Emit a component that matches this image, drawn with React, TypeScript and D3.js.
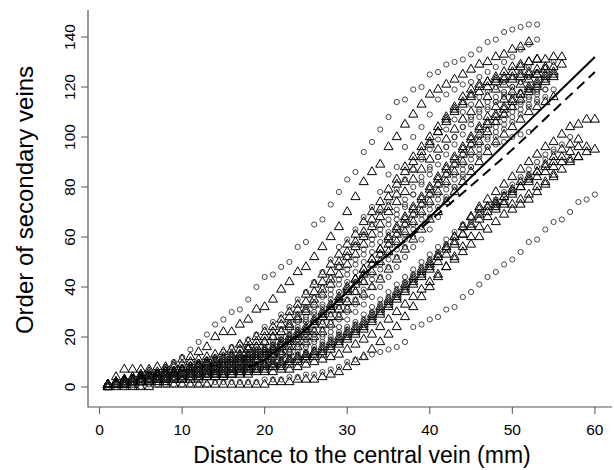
import React from "react";
import * as d3 from "d3";

// distance to the central vein, one reading per mm
const DISTANCE_MM = [
  1, 2, 3, 4, 5, 6, 7, 8, 9, 10, 11, 12, 13, 14, 15, 16, 17, 18, 19, 20,
  21, 22, 23, 24, 25, 26, 27, 28, 29, 30, 31, 32, 33, 34, 35, 36, 37, 38, 39, 40,
  41, 42, 43, 44, 45, 46, 47, 48, 49, 50, 51, 52, 53, 54, 55, 56, 57, 58, 59, 60,
];

// order of secondary veins reached at each distance, one array per leaf
const LEAF_A = [1,1,2,3,4,5,6,8,10,12,15,18,21,25,27,30,31,35,40,44,45,48,50,56,58,65,67,73,78,83,86,94,98,103,108,114,115,119,120,125,126,129,130,131,133,135,138,139,142,143,144,145,145];
const LEAF_B = [1,4,7,7,7,7,8,8,9,11,12,14,16,20,22,22,25,27,31,32,35,39,42,46,48,52,56,60,64,70,76,82,86,89,96,100,105,109,113,117,119,121,123,125,127,129,130,132,133,135,136,138];
const LEAF_C = [1,2,3,4,5,5,6,6,7,8,9,10,11,12,14,16,17,19,21,24,26,29,32,35,38,42,46,51,56,59,63,68,72,78,85,88,96,100,104,109,115,117,119,121,122,124,126,128,130,132,135,137,139];
const LEAF_D = [1,2,3,3,4,5,5,6,6,7,8,9,10,11,12,13,15,16,18,20,22,25,28,31,34,38,42,46,50,54,58,62,67,71,76,81,86,90,94,98,102,106,110,113,116,118,120,122,124,126,128,130,131,131,132,132];
const LEAF_E = [1,1,2,2,3,3,4,4,5,5,6,7,8,9,10,11,12,13,15,16,18,20,23,26,28,32,36,39,43,47,51,55,59,63,67,71,75,80,84,88,92,96,100,104,108,111,114,116,118,120,122,124,126,128,130];
const LEAF_F = [0,1,2,3,4,4,5,5,6,7,7,8,9,10,11,12,13,15,16,18,20,22,25,28,31,35,39,43,48,52,56,60,64,68,72,77,82,87,92,97,102,107,112,116,119,121,122,123,123,124,124,125,125,125,126];
const LEAF_G = [1,2,2,3,3,4,5,5,6,6,7,8,8,9,10,11,12,13,14,15,17,19,21,23,26,29,32,35,38,42,46,50,54,58,62,67,72,77,82,87,92,96,100,104,107,110,112,114,116,117,118,119,119,119,119];
const LEAF_H = [1,2,3,3,4,4,5,6,6,7,7,8,9,9,10,11,12,13,14,15,16,18,20,22,24,27,30,33,36,40,43,47,51,55,59,63,67,71,75,79,83,87,91,95,99,103,106,109,112,115,117,119,121,123,124];
const LEAF_I = [1,1,2,2,3,3,4,4,5,6,6,7,7,8,9,10,10,11,12,13,14,15,17,19,21,23,26,29,32,35,38,42,45,49,53,57,61,65,69,73,77,81,85,89,93,97,100,104,107,110,113,115,117,119];
const LEAF_J = [0,1,1,2,2,3,3,4,4,5,5,6,6,7,7,8,8,9,10,11,12,13,14,16,18,20,22,25,28,31,34,37,40,43,47,51,55,59,63,67,70,74,78,82,86,90,94,98,101,104,107,110,112,114,116];
const LEAF_K = [1,1,2,2,2,3,3,3,4,4,5,5,6,6,7,7,8,9,9,10,11,12,13,14,16,18,20,22,24,27,30,33,36,40,44,48,52,56,59,63,68,75,80,85,88,93,96,97,98,100,101,102];
const LEAF_L = [1,1,1,2,2,2,3,3,3,4,4,4,5,5,5,6,6,7,7,8,8,9,10,11,12,13,14,16,18,20,22,24,27,30,33,36,39,42,45,48,52,56,60,64,68,72,75,78,81,84,87,90,93,96,98,101,104,105,107,107];
const LEAF_M = [0,0,0,0,0,0,1,1,1,1,1,1,1,1,1,1,1,1,1,1,2,2,2,3,3,3,4,5,6,8,10,12,15,18,21,24,28,32,36,40,44,48,52,56,60,64,68,71,74,77,80,82,84,86,88,90,91,92,96];
const LEAF_N = [0,0,0,0,0,1,1,1,1,1,1,1,1,2,2,2,2,2,2,3,3,3,4,4,5,5,6,7,8,10,11,12,13,14,15,16,18,24,25,27,28,31,32,36,38,41,44,46,49,51,54,58,59,63,66,67,70,74,75,77];
const LEAF_O = [1,1,2,2,3,3,3,4,4,4,5,5,6,6,6,7,7,8,8,9,9,10,11,12,13,14,16,18,20,22,24,26,29,32,35,38,41,44,47,50,53,56,60,64,68,71,72,72,73,73,75,77,80,82,85];
const LEAF_P = [1,1,1,2,2,3,3,3,4,4,5,5,6,6,7,7,8,8,9,9,10,11,12,13,14,16,18,20,22,24,26,29,32,35,38,41,44,47,50,53,56,59,62,65,68,70,72,74,77,79,82,85,88,91,94,97,100];
const LEAF_Q = [1,2,3,4,5,6,6,7,8,9,10,11,12,13,14,15,17,18,20,22,24,27,30,33,37,41,45,49,53,57,61,66,70,74,79,83,88,92,96,100,104,108,111,114,117,120,122,124,126,128,129,130,131];
const LEAF_R = [1,2,2,3,3,4,4,5,5,6,7,7,8,9,10,10,11,12,13,14,16,17,19,21,23,26,29,32,35,38,42,45,49,53,57,61,65,69,73,77,81,85,89,93,97,100,103,106,109,112,114,116,118];
const LEAF_S = [1,1,2,2,2,3,3,3,4,4,4,5,5,6,6,7,7,8,8,9,10,10,11,12,13,14,15,17,19,21,23,25,28,31,34,37,40,43,46,49,52,55,58,61,64,67,70,73,76,79,82,84,86,88,90,92,94,96];
const LEAF_T = [1,2,2,3,4,4,5,6,6,7,8,9,10,10,11,12,13,15,16,18,20,22,24,27,30,33,37,41,45,49,53,57,61,65,70,74,78,83,87,91,95,99,103,107,110,113,116,119,121,123,125,126,127,128];
const LEAF_U = [1,1,2,3,3,4,4,5,5,6,7,7,8,9,10,11,12,13,14,15,17,19,21,24,27,30,33,37,41,45,49,53,57,61,65,69,73,77,81,85,89,93,97,101,105,108,111,114,117,120,122,124];
const LEAF_V = [1,1,2,2,3,3,4,4,5,5,6,6,7,8,8,9,10,11,12,13,14,16,18,20,22,25,28,31,34,38,41,45,49,53,57,61,65,69,73,77,81,85,89,93,97,101,105,108,111,114,117,120,122,124,125];
const LEAF_W = [1,1,2,2,3,3,4,4,5,5,6,6,7,7,8,9,9,10,11,12,13,14,15,17,19,21,23,26,29,32,35,39,43,47,51,55,59,63,67,71,75,79,83,87,91,95,99,102,105,108,111,113,115];
const LEAF_X = [0,1,1,2,2,3,3,4,4,5,5,6,6,7,8,8,9,10,11,12,13,14,16,18,20,22,25,28,31,34,38,42,46,50,54,58,62,66,70,74,78,82,86,90,94,98,102,106,109,112,115,118,120,122];
const LEAF_Y = [1,2,2,3,3,4,4,5,6,6,7,8,9,10,11,12,13,14,16,18,20,23,26,29,32,36,40,44,48,52,57,61,65,70,74,79,83,87,91,95,99,103,107,110,113,116,118,120,122,124,126,128];
const LEAF_Z = [1,1,2,2,3,3,4,5,5,6,6,7,8,8,9,10,11,12,13,14,15,17,19,21,23,26,29,32,35,39,43,47,51,55,60,64,68,72,76,80,84,88,92,96,100,104,108,112,115,118,121,123,125,127,128,129];
const LEAF_AA = [1,1,2,2,2,3,3,4,4,5,5,6,6,7,7,8,9,9,10,11,12,13,14,16,17,19,21,24,27,30,33,36,40,44,48,52,56,60,64,68,72,76,80,84,88,92,96,100,103,106,109,112,114,116];
const LEAF_AB = [1,1,1,2,2,2,3,3,3,3,4,4,4,5,5,5,6,6,7,7,8,8,9,10,11,12,13,15,17,19,21,23,26,29,32,35,38,41,44,47,50,53,57,61,65,69,72,74,76,78,80,83,86,89,92,95,97,99];
const LEAF_AC = [1,1,1,1,2,2,2,2,3,3,3,3,4,4,4,5,5,5,6,6,6,7,7,8,9,10,11,12,13,15,17,19,21,24,27,30,33,36,39,42,45,48,51,54,57,60,63,66,69,71,73,75,78,81,84,87,90,92,94,95];
const LEAF_AD = [1,1,1,2,2,2,3,3,3,4,4,4,5,5,6,6,7,7,8,8,9,10,11,12,13,15,17,19,21,23,25,27,30,33,36,39,42,45,48,51,54,57,60,63,66,69,72,75,78,81,84,87,90,93,95];

const LEAVES: [string, number[]][] = [
  ["circle", LEAF_A], ["triangle", LEAF_B], ["circle", LEAF_C], ["triangle", LEAF_D],
  ["circle", LEAF_E], ["triangle", LEAF_F], ["circle", LEAF_G], ["triangle", LEAF_H],
  ["circle", LEAF_I], ["triangle", LEAF_J], ["circle", LEAF_K], ["triangle", LEAF_L],
  ["triangle", LEAF_M], ["circle", LEAF_N], ["triangle", LEAF_O], ["circle", LEAF_P],
  ["triangle", LEAF_Q], ["circle", LEAF_R], ["triangle", LEAF_S], ["triangle", LEAF_T],
  ["circle", LEAF_U], ["triangle", LEAF_V], ["circle", LEAF_W], ["triangle", LEAF_X],
  ["circle", LEAF_Y], ["triangle", LEAF_Z], ["circle", LEAF_AA], ["triangle", LEAF_AB],
  ["triangle", LEAF_AC], ["circle", LEAF_AD],
];

// fitted curves
const FIT_X = [18, 20, 22, 25, 27, 30, 32, 35, 40, 45, 50, 55, 60];
const FIT_SOLID = [8, 11, 16, 23, 29, 38, 45, 53, 68, 84, 100, 116, 132];
const FIT_DASHED = [8, 11, 16, 23, 29, 38, 45, 53, 66.5, 80.5, 95, 110.5, 126];

const X_TICKS = [0, 10, 20, 30, 40, 50, 60];
const Y_TICKS = [0, 20, 40, 60, 80, 100, 120, 140];

const W = 614;
const H = 470;
const FONT = "'Liberation Sans', Arial, Helvetica, sans-serif";

export default function App() {
  const x = d3.scaleLinear().domain([-1.4, 62.8]).range([88, 618]);
  const y = d3.scaleLinear().domain([-8, 150.8]).range([407, 10]);

  const tri = d3.symbol().type(d3.symbolTriangle).size(36)();

  const line = d3
    .line<number>()
    .x((d, i) => x(FIT_X[i]))
    .y(d => y(d))
    .curve(d3.curveMonotoneX);

  const pts: JSX.Element[] = [];
  LEAVES.forEach(([shape, orders], li) => {
    orders.forEach((o, i) => {
      const cx = x(DISTANCE_MM[i]);
      const cy = y(o);
      if (shape === "circle") {
        pts.push(
          <circle key={li + "-" + i} cx={cx} cy={cy} r={2.6} fill="none" stroke="#333" strokeWidth={0.9} />
        );
      } else {
        pts.push(
          <path key={li + "-" + i} d={tri!} transform={`translate(${cx},${cy})`} fill="none" stroke="#000" strokeWidth={1} />
        );
      }
    });
  });

  return (
    <svg width={W} height={H} style={{ position: "absolute", left: 0, top: 0, background: "#fff" }}>
      <g>{pts}</g>
      <path d={line(FIT_SOLID)!} fill="none" stroke="#000" strokeWidth={2} />
      <path d={line(FIT_DASHED)!} fill="none" stroke="#000" strokeWidth={2} strokeDasharray="10,6" />

      {/* L-shaped box */}
      <path d="M88,10V407H612" fill="none" stroke="#555" strokeWidth={1.2} />

      {X_TICKS.map(t => (
        <g key={"x" + t}>
          <line x1={x(t)} x2={x(t)} y1={407} y2={414} stroke="#555" />
          <text x={x(t)} y={435} textAnchor="middle" fontSize={15.5} fontFamily={FONT}>{t}</text>
        </g>
      ))}
      {Y_TICKS.map(t => (
        <g key={"y" + t}>
          <line x1={81} x2={88} y1={y(t)} y2={y(t)} stroke="#555" />
          <text transform={`translate(75,${y(t)}) rotate(-90)`} textAnchor="middle" fontSize={15.5} fontFamily={FONT}>{t}</text>
        </g>
      ))}
      <text x={362} y={463} textAnchor="middle" fontSize={23} fontFamily={FONT}>Distance to the central vein (mm)</text>
      <text transform="translate(33,200) rotate(-90)" textAnchor="middle" fontSize={24} fontFamily={FONT}>Order of secondary veins</text>
    </svg>
  );
}
